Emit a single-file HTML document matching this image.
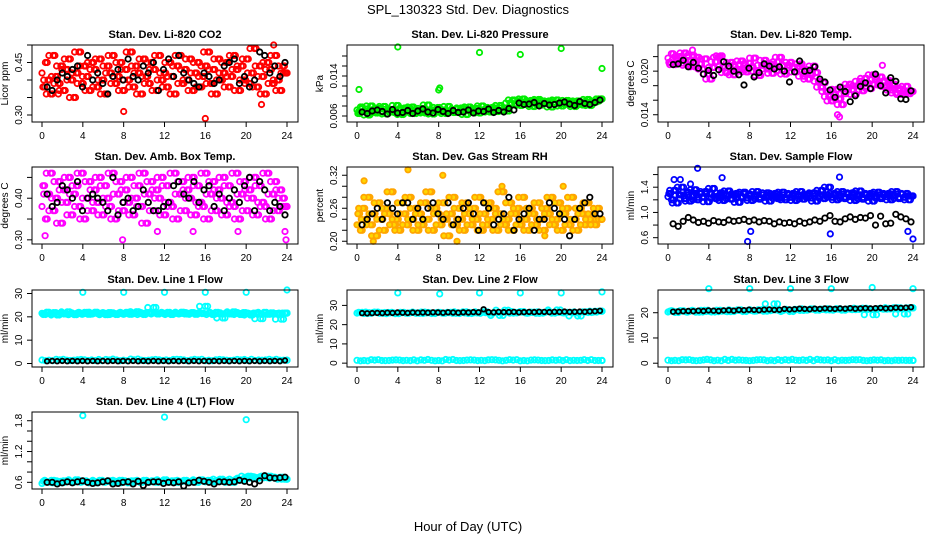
<!DOCTYPE html>
<html><head><meta charset="utf-8"><style>
body{margin:0;background:#fff;}
svg{display:block;font-family:"Liberation Sans",sans-serif;}
</style></head><body>
<svg id="chart" width="936" height="540" viewBox="0 0 936 540">
<text x="468" y="14" text-anchor="middle" font-size="13">SPL_130323  Std. Dev. Diagnostics</text>
<text x="468" y="531" text-anchor="middle" font-size="13">Hour of Day (UTC)</text>
</svg>
<script>
// ---- data (hours 0-24) ----
const xTicks = [0,4,8,12,16,20,24];
const titles = ["Stan. Dev. Li-820 CO2","Stan. Dev. Li-820 Pressure","Stan. Dev. Li-820 Temp.","Stan. Dev. Amb. Box Temp.","Stan. Dev. Gas Stream RH","Stan. Dev. Sample Flow","Stan. Dev. Line 1 Flow","Stan. Dev. Line 2 Flow","Stan. Dev. Line 3 Flow","Stan. Dev. Line 4 (LT) Flow"];
const units = ["Licor ppm","kPa","degrees C","degrees C","percent","ml/min","ml/min","ml/min","ml/min","ml/min"];
const tickVals = [[0.30,0.35,0.40,0.45,0.50],[0.006,0.008,0.010,0.012,0.014,0.016,0.018],[0.014,0.016,0.018,0.020,0.022],[0.30,0.35,0.40,0.45],[0.20,0.22,0.24,0.26,0.28,0.30,0.32],[0.6,0.8,1.0,1.2,1.4,1.6],[0,10,20,30],[0,10,20,30],[0,10,20],[0.6,0.8,1.0,1.2,1.4,1.6,1.8]];
const tickLabels = [["0.30","","","0.45",""],["0.006","","","","0.014","",""],["0.014","","","0.020",""],["0.30","","0.40",""],["0.20","","","0.26","","","0.32"],["0.6","","1.0","","1.4",""],["0","10","20","30"],["0","10","20","30"],["0","10","20"],["0.6","","","1.2","","","1.8"]];
const yDomains = [[0.28,0.50],[0.0048,0.0202],[0.0130,0.0236],[0.29,0.475],[0.195,0.335],[0.50,1.72],[-1.5,31.5],[-2,38],[-1.5,29],[0.47,1.97]];

const co2Main = [.42,.38,.45,.40,.36,.47,.41,.39,.44,.37,.43,.46,.40,.35,.42,.48,.39,.44,.41,.37,.45,.43,.38,.46,.40,.36,.44,.42,.47,.39,.41,.45,.37,.43,.40,.48,.38,.44,.42,.36,.46,.41,.39,.45,.43,.37,.47,.40,.42,.38,.45,.41,.36,.44,.47,.39,.43,.40,.46,.37,.42,.45,.38,.41,.44,.48,.39,.43,.36,.46,.40,.42,.45,.38,.41,.47,.43,.37,.44,.40,.46,.39,.42,.49,.38,.44,.41,.36,.45,.43,.39,.47,.40,.37,.44,.42];
const co2Black = [.38,.37,.40,.42,.41,.43,.44,.38,.47,.40,.42,.39,.36,.41,.43,.40,.46,.41,.40,.44,.42,.45,.37,.43,.46,.41,.47,.42,.40,.39,.38,.42,.41,.39,.40,.44,.45,.46,.39,.41,.38,.40,.48,.47,.42,.44,.41,.45];
const co2OutX = [8,16,21.5,22.7,1,1.6]; const co2OutY = [.31,.29,.33,.50,.36,.36];

const presMain = [7.2,6.5,7.8,6.9,7.4,6.2,8.0,7.1,6.6,7.5,6.8,7.9,6.4,7.3,7.0,6.7,8.1,7.2,6.3,7.6,6.9,7.4,7.8,6.5,7.1,6.8,7.5,6.6,8.2,7.0,6.4,7.3,7.7,6.9,7.2,6.5,7.9,7.1,6.7,7.4,6.8,7.6,7.0,6.3,7.8,7.2,6.9,7.5,6.6,8.0,7.3,7.1,6.8,7.7,7.4,6.9,8.1,7.2,7.6,7.0,8.6,9.2,8.4,9.0,8.1,9.4,8.8,8.3,9.1,7.9,8.7,9.3,8.2,8.9,8.5,9.0,7.8,8.6,9.2,8.4,8.0,8.8,9.1,8.3,8.7,7.9,9.0,8.5,8.2,8.9,9.3,8.1,8.6,8.8,9.0,9.4];
const presBlack = [6.8,6.5,7.0,7.2,6.9,6.4,7.3,6.6,6.7,7.1,6.5,7.0,7.4,6.8,6.6,7.3,6.9,6.5,7.1,6.7,6.8,7.2,6.6,7.0,6.9,7.4,6.7,7.1,6.8,7.5,7.2,8.6,8.3,8.4,8.7,8.0,8.5,8.2,8.3,8.6,8.8,8.4,8.1,8.9,8.5,8.3,8.7,9.2];
const presOutX = [0.2,4,8,8.1,12,16,20,24]; const presOutY = [11.3,19.8,11.2,11.6,18.7,18.3,19.5,15.5];

const tempMain = [21.8,21.2,22.4,20.9,21.6,22.0,21.1,22.5,20.8,21.4,22.2,20.6,21.9,21.0,20.3,21.7,19.6,18.9,20.5,21.3,21.9,22.1,20.7,19.8,20.4,21.2,19.5,20.1,20.9,21.4,20.2,19.9,21.1,20.6,21.8,20.0,19.4,20.8,21.5,20.3,21.0,19.7,20.5,21.3,21.9,20.1,19.6,20.8,21.2,20.4,19.9,20.6,21.0,19.3,20.2,18.9,19.5,20.7,19.8,18.6,17.8,18.4,17.2,16.5,15.9,16.8,17.5,16.2,15.4,16.9,17.7,18.2,17.4,16.8,18.0,18.6,17.3,19.0,18.3,17.6,19.5,18.8,18.1,19.2,18.5,17.9,18.7,17.4,18.2,17.0,17.6,16.8,17.3,17.9,16.9,17.2];
const tempBlack = [20.9,21.0,21.5,20.6,21.2,20.4,19.6,20.1,19.4,20.2,21.3,20.7,20.0,19.5,18.1,20.4,19.2,19.8,21.0,20.7,20.3,20.6,20.0,18.5,19.9,21.4,20.0,20.1,20.6,18.9,18.5,17.4,16.4,17.8,17.2,15.8,16.6,17.9,18.4,17.6,19.6,18.0,17.0,19.1,18.6,16.2,16.1,17.3];
const tempOutX = [16.6,16.8,2.4,21]; const tempOutY = [14.0,13.7,22.9,20.8];

const boxMain = [.38,.43,.35,.41,.46,.37,.40,.44,.34,.42,.39,.45,.36,.41,.43,.38,.46,.35,.40,.44,.37,.42,.39,.45,.36,.43,.40,.38,.46,.35,.41,.44,.37,.42,.39,.45,.36,.40,.43,.38,.46,.34,.41,.44,.37,.42,.40,.45,.36,.43,.39,.38,.46,.35,.41,.44,.37,.42,.40,.45,.36,.43,.39,.38,.46,.35,.41,.44,.37,.42,.40,.45,.36,.43,.39,.38,.46,.35,.41,.44,.37,.42,.40,.45,.36,.43,.39,.38,.46,.35,.41,.44,.37,.42,.40,.38];
const boxBlack = [.41,.38,.39,.43,.42,.40,.44,.37,.40,.41,.40,.39,.37,.45,.36,.39,.40,.37,.38,.42,.39,.37,.37,.38,.39,.43,.44,.41,.40,.44,.39,.42,.43,.38,.41,.37,.40,.42,.39,.43,.45,.37,.44,.42,.37,.39,.38,.36];
const boxOutX = [0.3,7.9,11.3,14.8,19.2,23.8,23.9]; const boxOutY = [.31,.30,.32,.32,.32,.32,.30];

const rhMain = [.23,.25,.22,.26,.24,.28,.23,.25,.21,.27,.24,.22,.26,.25,.29,.23,.24,.22,.27,.25,.23,.28,.24,.26,.22,.25,.23,.27,.24,.29,.22,.26,.25,.23,.27,.24,.21,.25,.28,.23,.26,.24,.22,.27,.25,.23,.26,.24,.28,.22,.25,.23,.27,.24,.26,.22,.25,.29,.23,.24,.27,.22,.25,.26,.23,.28,.24,.22,.26,.25,.23,.27,.24,.22,.26,.25,.28,.23,.24,.27,.22,.25,.26,.23,.28,.24,.22,.26,.25,.23,.27,.24,.25,.23,.26,.24];
const rhBlack = [.23,.24,.25,.26,.24,.27,.26,.25,.27,.27,.24,.26,.24,.26,.27,.25,.24,.27,.23,.24,.26,.27,.25,.22,.27,.26,.23,.24,.25,.28,.22,.24,.25,.26,.22,.24,.24,.27,.26,.25,.24,.21,.24,.26,.27,.28,.25,.25];
const rhOutX = [0.7,1.6,5,8.4,9.8,14.2,18.4,20.2,1.9]; const rhOutY = [.31,.20,.33,.32,.20,.30,.21,.30,.21];

const flowMain = [1.25,1.30,1.20,1.35,1.15,1.28,1.40,1.22,1.32,1.18,1.27,1.36,1.20,1.30,1.24,1.33,1.17,1.29,1.38,1.22,1.26,1.31,1.19,1.28,1.34,1.21,1.27,1.30,1.16,1.25,1.32,1.23,1.29,1.19,1.26,1.33,1.21,1.28,1.24,1.31,1.18,1.27,1.30,1.22,1.25,1.32,1.20,1.28,1.24,1.30,1.19,1.26,1.33,1.21,1.27,1.29,1.23,1.31,1.18,1.26,1.35,1.22,1.28,1.40,1.24,1.30,1.20,1.27,1.33,1.22,1.29,1.25,1.31,1.19,1.27,1.34,1.21,1.28,1.24,1.30,1.18,1.26,1.32,1.22,1.28,1.25,1.30,1.20,1.27,1.33,1.22,1.29,1.24,1.30,1.20,1.26];
const flowBlack = [.82,.78,.86,.92,.88,.84,.86,.83,.87,.85,.84,.88,.86,.87,.89,.86,.88,.85,.87,.86,.82,.85,.83,.84,.82,.86,.83,.85,.88,.86,.91,.95,.86,.85,.90,.93,.89,.92,.91,.95,.80,.94,.82,.83,.97,.93,.90,.85];
const flowOutX = [0.6,1.2,2.2,2.9,5.3,7.8,8.1,15.9,16.8,23.5,24]; const flowOutY = [1.52,1.52,1.45,1.70,1.55,0.54,0.70,0.66,1.56,0.70,0.58];

const l1Main = [21.5,21.0,22.0,21.3,21.8,20.8,21.6,21.2,22.1,21.4,20.9,21.7,21.3,21.9,21.1,21.5,22.0,21.2,21.6,20.9,21.8,21.4,21.0,21.7,21.3,21.9,21.1,21.6,22.2,21.4,21.0,21.8,21.5,24.0,21.2,21.7,21.3,21.9,21.0,21.6,21.4,22.0,21.2,21.5,21.8,21.1,21.7,21.4,24.5,21.6,21.0,21.9,21.3,19.5,21.7,21.2,22.1,21.5,21.0,21.8,21.4,20.8,21.6,21.3,19.2,21.9,21.1,21.7,21.4,21.2,19.0,21.6];
const l1Low = [1.5,1.2,1.8,1.4,1.6,1.3,1.7,1.5,1.2,1.9,1.4,1.6,1.3,1.7,1.5,1.8,1.2,1.6,1.4,1.7,1.3,1.5,1.8,1.4];
const l1Black = [1.0,1.1,1.0,1.1,1.0,1.1,1.0,1.1,1.0,1.1,1.0,1.1,1.0,1.1,1.0,1.1,1.0,1.1,1.0,1.1,1.0,1.1,1.0,1.1,1.0,1.1,1.0,1.1,1.0,1.1,1.0,1.1,1.0,1.1,1.0,1.1,1.0,1.1,1.0,1.1,1.0,1.1,1.0,1.1,1.0,1.1,1.0,1.3];
const l1OutX = [4,8,12,16,20,24]; const l1OutY = [30.5,30.5,30.5,30.5,30.5,31.5];

const l2Main = [26.0,26.4,25.8,26.2,26.5,25.9,26.3,26.1,25.7,26.4,26.0,26.2,25.9,26.5,26.1,25.8,26.3,26.0,26.4,25.9,26.2,26.6,25.8,26.1,26.3,26.7,25.9,26.2,24.8,27.5,26.0,26.4,26.8,26.1,26.5,25.9,26.3,26.7,26.0,27.6,26.2,26.4,26.1,24.5,26.6,26.3,26.5,27.0];
const l2Low = [1.5,1.2,1.8,1.4,1.6,1.3,1.7,1.5,1.2,1.9,1.4,1.6,1.3,1.7,1.5,1.8,1.2,1.6,1.4,1.7,1.3,1.5,1.8,1.4];
const l2Black = [26.0,25.9,26.0,26.1,26.0,26.2,26.1,26.3,26.2,26.1,26.3,26.2,26.3,26.2,26.4,26.3,26.2,26.4,26.3,26.2,26.4,26.3,26.5,26.4,28.0,26.5,26.4,26.6,26.5,26.5,26.6,26.4,26.5,26.6,26.5,26.7,26.6,26.5,26.7,26.6,26.8,26.6,26.7,26.8,26.7,26.9,27.0,27.2];
const l2OutX = [4,8.1,12,16,20,24]; const l2OutY = [36.5,36.0,36.5,36.5,36.5,37.0];

const l3Main = [20.3,20.6,20.1,20.8,20.4,20.7,20.2,20.9,20.5,20.3,21.0,20.6,20.4,20.8,21.1,20.5,20.9,20.7,21.2,20.6,21.0,23.5,20.8,21.1,20.5,21.3,20.9,21.2,21.5,21.0,21.4,21.1,21.3,21.6,21.0,21.4,21.2,21.5,21.8,21.3,19.2,21.6,21.4,21.7,22.0,21.5,19.5,21.9];
const l3Low = [1.2,1.0,1.4,1.1,1.3,1.0,1.5,1.2,1.1,1.3,1.0,1.4,1.2,1.1,1.5,1.3,1.0,1.2,1.4,1.1,1.3,1.0,1.2,1.1];
const l3Black = [20.4,20.5,20.6,20.7,20.6,20.8,20.7,20.9,20.8,20.7,20.9,21.0,20.8,21.1,21.0,21.2,21.1,21.0,21.2,21.3,21.1,21.2,21.5,21.3,21.4,21.6,21.5,21.4,21.6,21.5,21.7,21.6,21.5,21.7,21.6,21.8,21.6,21.7,21.8,21.7,21.8,21.9,21.7,21.8,22.0,21.9,22.0,22.2];
const l3OutX = [4,8,12,16,20,24]; const l3OutY = [29.5,29.5,29.5,29.5,30.0,29.5];

const l4Main = [.58,.62,.60,.64,.61,.59,.63,.62,.60,.65,.61,.63,.60,.62,.59,.64,.61,.63,.60,.62,.64,.61,.59,.63,.62,.60,.64,.61,.63,.60,.62,.65,.61,.63,.60,.62,.64,.61,.63,.60,.65,.62,.64,.61,.63,.66,.64,.62,.60,.66,.64,.68,.72,.70,.68,.71,.69,.72,.70,.68,.70,.66];
const l4Black = [.60,.60,.57,.59,.61,.59,.61,.63,.60,.58,.59,.61,.63,.57,.58,.60,.61,.57,.62,.54,.60,.61,.61,.58,.60,.59,.61,.53,.59,.60,.64,.62,.60,.57,.61,.61,.60,.61,.64,.62,.60,.57,.63,.73,.69,.68,.69,.70];
const l4OutX = [4,12,20]; const l4OutY = [1.90,1.87,1.82];

// ---- layout & drawing ----
const svg = document.getElementById('chart');
const NS = 'http://www.w3.org/2000/svg';
const colL = [32, 347, 658];
const rowT = [45, 167, 290, 412];
const BW = 266, BH = 77;
function mk(tag, attrs, parent){ const e=document.createElementNS(NS,tag); for(const k in attrs) e.setAttribute(k,attrs[k]); (parent||svg).appendChild(e); return e; }
function hours(n, off){ const a=[]; const st=24/(n-1); for(let i=0;i<n;i++) a.push(Math.min(24, i*st + (off||0)*st)); return a; }
function hoursB(n){ const a=[]; for(let i=0;i<n;i++) a.push(0.5+i*23.3/(n-1)); return a; }
function shiftVals(v,k){ return v.map((_,i)=>v[Math.min(v.length-1,i+k)]); }

function panel(idx, series){
  const L=colL[idx%3], T=rowT[Math.floor(idx/3)];
  const g=mk('g',{});
  
  
  const dom=yDomains[idx];
  const xs=h=>L+10+h*(245/24);
  const ys=v=>T+BH-(v-dom[0])/(dom[1]-dom[0])*BH;
  const t=mk('text',{x:L+BW/2,y:T-7,'text-anchor':'middle','font-size':'11','font-weight':'bold'},g);
  t.textContent=titles[idx];
  
  
  series.forEach(s=>{
    const passes=[];
    if(s.x) passes.push({xh:s.x, v:s.v});
    else if(s.black) passes.push({xh:hoursB(s.v.length), v:s.v});
    else {
      const n=s.v.length;
      passes.push({xh:hours(n,0), v:s.v});
      passes.push({xh:hours(n,0.33), v:shiftVals(s.v,1)});
      passes.push({xh:hours(n,0.66), v:shiftVals(s.v,3)});
    }
    passes.forEach(p=>{
      p.v.forEach((v,i)=>{
        const c=mk('circle',{cx:xs(p.xh[i]).toFixed(1),cy:ys(v).toFixed(1),r:s.r||2.7,fill:s.fill||'none',stroke:s.c,'stroke-width':s.w||1.8},g);
        
        
      });
    });
  });
  const box=mk('rect',{x:L,y:T,width:BW,height:BH,fill:'none',stroke:'#000','stroke-width':1},g);
  
  
  xTicks.forEach(h=>{
    mk('line',{x1:xs(h),x2:xs(h),y1:T+BH,y2:T+BH+5,stroke:'#000'},g);
    const tx=mk('text',{x:xs(h),y:T+BH+17,'text-anchor':'middle','font-size':'10'},g);
    tx.textContent=h;
    
    
  });
  tickVals[idx].forEach((v,i)=>{
    const y=ys(v);
    mk('line',{x1:L-5,x2:L,y1:y,y2:y,stroke:'#000'},g);
    if(tickLabels[idx][i]){
      const ty=mk('text',{x:L-10,y:y,'text-anchor':'middle','font-size':'10',transform:'rotate(-90 '+(L-10)+' '+y+')'},g);
      ty.textContent=tickLabels[idx][i];
      
      
    }
  });
  const yl=mk('text',{x:L-24,y:T+BH/2,'text-anchor':'middle','font-size':'10',transform:'rotate(-90 '+(L-24)+' '+(T+BH/2)+')'},g);
  yl.textContent=units[idx];
  
  
}

const K='#000', R='#ff0000', G='#00ee00', M='#ff00ff', B='#0000ff', C='#00ffff';
panel(0,[{v:co2Main,c:R},{v:co2OutY,x:co2OutX,c:R},{v:co2Black,c:K,black:1}]);
panel(1,[{v:presMain.map(v=>v/1000),c:G},{v:presOutY.map(v=>v/1000),x:presOutX,c:G},{v:presBlack.map(v=>v/1000),c:K,black:1}]);
panel(2,[{v:tempMain.map(v=>v/1000),c:M},{v:tempOutY.map(v=>v/1000),x:tempOutX,c:M},{v:tempBlack.map(v=>v/1000),c:K,black:1}]);
panel(3,[{v:boxMain,c:M},{v:boxOutY,x:boxOutX,c:M},{v:boxBlack,c:K,black:1}]);
panel(4,[{v:rhMain,c:'#ffa500',fill:'#ffd700'},{v:rhOutY,x:rhOutX,c:'#ffa500',fill:'#ffd700'},{v:rhBlack,c:K,black:1}]);
panel(5,[{v:flowMain,c:B},{v:flowOutY,x:flowOutX,c:B},{v:flowBlack,c:K,black:1}]);
panel(6,[{v:l1Main,c:C},{v:l1Low,c:C},{v:l1OutY,x:l1OutX,c:C},{v:l1Black,c:K,black:1,r:2.3}]);
panel(7,[{v:l2Main,c:C},{v:l2Low,c:C},{v:l2OutY,x:l2OutX,c:C},{v:l2Black,c:K,black:1,r:2.3}]);
panel(8,[{v:l3Main,c:C},{v:l3Low,c:C},{v:l3OutY,x:l3OutX,c:C},{v:l3Black,c:K,black:1,r:2.3}]);
panel(9,[{v:l4Main,c:C},{v:l4OutY,x:l4OutX,c:C},{v:l4Black,c:K,black:1}]);
</script>
</body></html>
